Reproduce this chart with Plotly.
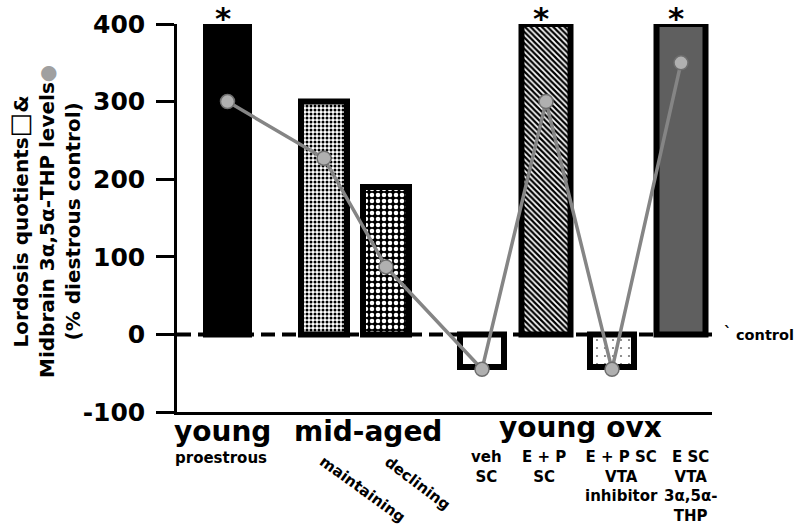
import plotly.graph_objects as go

# ---- data ----
groups = ["young proestrous", "mid-aged maintaining", "mid-aged declining",
          "veh SC", "E + P SC", "E + P SC VTA inhibitor", "E SC VTA 3α,5α-THP"]
lordosis = [400, 300, 190, -42, 400, -42, 400]          # bars (% diestrous control)
thp_levels = [300, 227, 87, -45, 300, -45, 350]          # gray dots (% diestrous control)
significant = [True, False, False, False, True, False, True]
y_ticks = [-100, 0, 100, 200, 300, 400]
y_ticktext = ["-100", "0", "100", "200", "300", "400"]

# ---- layout positions (x in pixels from the y axis) ----
bar_pos = [50.5, 147, 209, 305, 369, 435, 504]
bar_width = [43, 46, 46, 44, 49, 44, 49]

# ---- styles per bar ----
fill = ["black", "white", "black", "white", "white", "white", "#5f5f5f"]
pat_shape = ["", ".", ".", "", "\\", ".", ""]
pat_fg = ["black", "black", "white", "black", "black", "#777777", "black"]
pat_size = [8, 4, 6, 8, 4, 8, 8]
pat_solid = [0.3, 0.45, 0.45, 0.3, 0.55, 0.06, 0.3]

FONT = "DejaVu Sans"
W, H = 800, 527
AX_X, TOP_Y, BOT_Y, RIGHT_X = 177, 24, 412, 712   # in pixels
PW = RIGHT_X - AX_X
PH = BOT_Y - TOP_Y
L, T = AX_X, TOP_Y
R, B = W - RIGHT_X, H - BOT_Y


def ypx(py):
    return (BOT_Y - py) / PH


def xd(px):
    return px - AX_X


fig = go.Figure()
for i in range(len(lordosis)):
    marker = dict(color=fill[i], line=dict(color="black", width=6))
    if pat_shape[i]:
        marker["pattern"] = dict(shape=pat_shape[i], fgcolor=pat_fg[i], bgcolor=fill[i],
                                 size=pat_size[i], solidity=pat_solid[i], fillmode="replace")
    fig.add_bar(x=[bar_pos[i]], y=[lordosis[i]], width=[bar_width[i]], name=groups[i],
                marker=marker, showlegend=False)

fig.add_scatter(
    x=bar_pos, y=thp_levels, mode="lines+markers",
    line=dict(color="#858585", width=3.5),
    marker=dict(symbol="circle", size=14, color="#b0b0b0",
                line=dict(color="#6e6e6e", width=1.5)),
    showlegend=False,
)

shapes = [dict(type="line", xref="x", yref="y", x0=0, x1=PW, y0=0, y1=0,
               line=dict(color="black", width=4, dash="14px,7px"), layer="below")]

bold = dict(family=FONT, color="black", weight="bold")
ann = []
for xp, sig in zip(bar_pos, significant):
    if sig:
        ann.append(dict(x=xp, xref="x", xshift=-5, y=ypx(18), yref="paper", text="*",
                        showarrow=False, yanchor="middle",
                        font=dict(size=31, **bold)))

big = dict(size=28, **bold)
small = dict(size=15, **bold)
labels = [
    dict(x=xd(222), y=ypx(431), text="young", font=big),
    dict(x=xd(368), y=ypx(431), text="mid-aged", font=big),
    dict(x=xd(580), y=ypx(427), text="young ovx", font=big),
    dict(x=xd(221), y=ypx(458), text="proestrous", font=small),
    dict(x=xd(362), y=ypx(489), text="maintaining", font=small, textangle=36),
    dict(x=xd(417), y=ypx(483), text="declining", font=small, textangle=37),
    dict(x=xd(486), y=ypx(446), text="veh<br>SC", font=small, yanchor="top"),
    dict(x=xd(544), y=ypx(446), text="E + P<br>SC", font=small, yanchor="top"),
    dict(x=xd(621), y=ypx(446), text="E + P SC<br>VTA<br>inhibitor", font=small, yanchor="top"),
    dict(x=xd(690), y=ypx(446), text="E SC<br>VTA<br>3α,5α-<br>THP", font=small, yanchor="top"),
]
for a in labels:
    a["xref"] = "x"
    a["yref"] = "paper"
    a["showarrow"] = False
    a.setdefault("yanchor", "middle")
ann += labels

ann.append(dict(x=(722 - AX_X) / PW, xref="paper", y=ypx(333), yref="paper",
                text="`", showarrow=False, xanchor="left", yanchor="middle",
                font=dict(size=15, **bold)))
ann.append(dict(x=(734 - AX_X) / PW, xref="paper", y=ypx(335), yref="paper",
                text="control", showarrow=False, xanchor="left", yanchor="middle",
                font=dict(size=14.5, **bold)))
ann.append(dict(x=(44 - AX_X) / PW, xref="paper", y=ypx(222), yref="paper",
                text="Lordosis quotients<span style='font-size:26px'>□</span>&<br>"
                     "Midbrain 3α,5α-THP levels<span style='color:#a0a0a0'>●</span><br>"
                     "(% diestrous control)",
                showarrow=False, textangle=-90, xanchor="center", yanchor="middle",
                font=dict(size=20, **bold)))

fig.update_layout(
    width=W, height=H,
    margin=dict(l=L, r=R, t=T, b=B, autoexpand=False),
    paper_bgcolor="white", plot_bgcolor="white",
    barmode="overlay",
    shapes=shapes, annotations=ann,
    xaxis=dict(range=[0, PW], showline=True, linewidth=3, linecolor="black",
               showticklabels=False, ticks="", showgrid=False, zeroline=False),
    yaxis=dict(range=[-100, 400], tickvals=y_ticks, ticktext=y_ticktext,
               ticks="outside", ticklen=18, tickwidth=2.5, tickcolor="black",
               showline=True, linewidth=2.5, linecolor="black",
               showgrid=False, zeroline=False, automargin=False,
               tickfont=dict(size=25, **bold), ticklabelstandoff=6),
)
fig.write_html("out.html", config={"displayModeBar": False},
               post_script="document.body.style.margin='0';")
